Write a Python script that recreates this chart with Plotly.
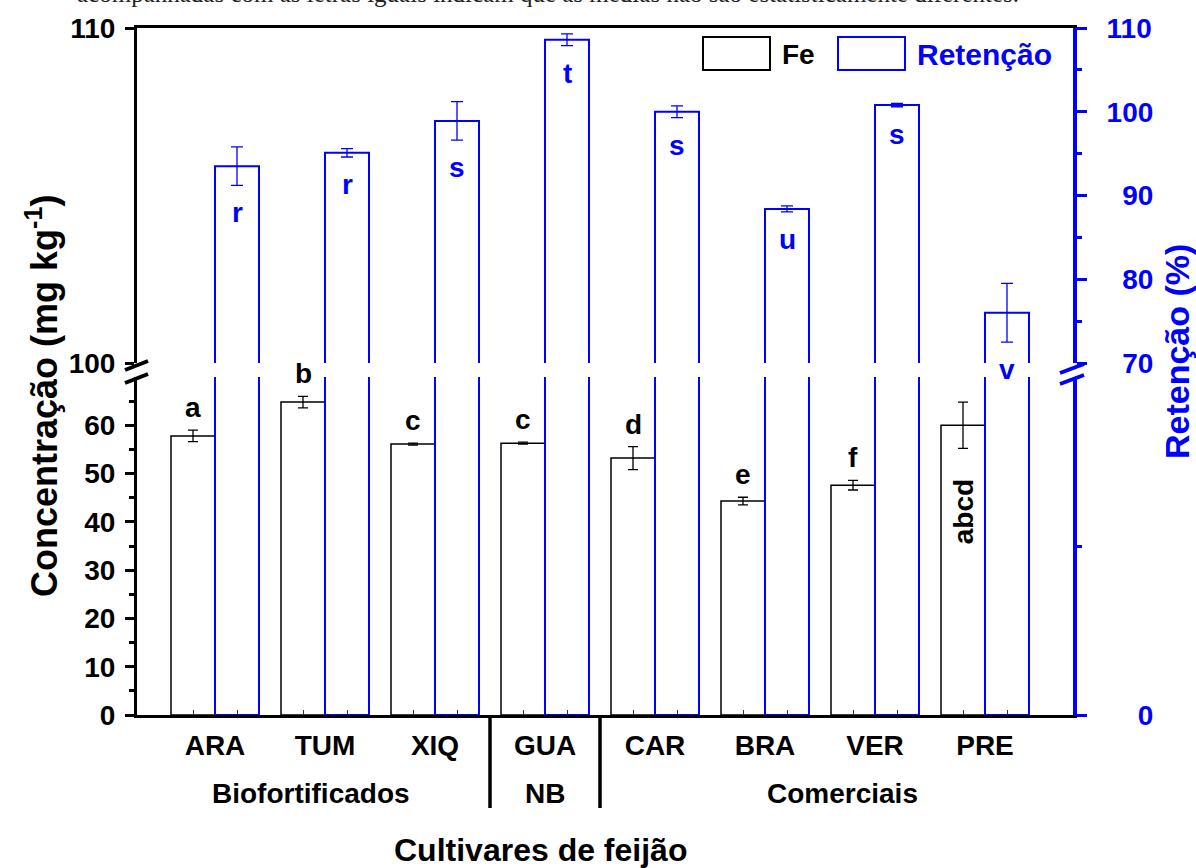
import plotly.graph_objects as go

# ---------------- data ----------------
categories = ["ARA", "TUM", "XIQ", "GUA", "CAR", "BRA", "VER", "PRE"]
fe = [57.8, 64.8, 56.1, 56.3, 53.2, 44.3, 47.6, 60.0]
fe_err = [1.2, 1.2, 0.2, 0.2, 2.4, 0.8, 1.0, 4.8]
fe_letters = ["a", "b", "c", "c", "d", "e", "f", "abcd"]
ret = [93.5, 95.1, 98.9, 108.6, 100.0, 88.4, 100.8, 76.0]
ret_err = [2.3, 0.5, 2.3, 0.7, 0.7, 0.35, 0.2, 3.5]
ret_letters = ["r", "r", "s", "t", "s", "u", "s", "v"]
groups = ["Biofortificados", "NB", "Comerciais"]
fe_ticks_lower = [0, 10, 20, 30, 40, 50, 60]
fe_ticks_upper = [100, 110]
ret_ticks_upper = [70, 80, 90, 100, 110]
ret_ticks_lower = [0]

# ---------------- layout helpers ----------------
FONT = "Liberation Sans, Arial, sans-serif"
BLUE = "#0000FF"
W, H = 1196, 868
L, R, T, B = 137, 1073, 28, 715
PW, PH = R - L, B - T


def px(x):
    return (x - L) / PW


def py(y):
    return (B - y) / PH


idx = list(range(len(categories)))
lower_dom = [0, py(377)]
upper_dom = [py(363), 1]
bw = 0.4

fig = go.Figure()

fig.add_trace(go.Bar(
    x=idx, y=fe, width=bw, offset=-bw, xaxis="x", yaxis="y",
    marker=dict(color="white", line=dict(color="black", width=1.5)),
    error_y=dict(type="data", array=fe_err, color="black", thickness=1.3, width=5),
    showlegend=False, name="Fe"))

fig.add_trace(go.Bar(
    x=idx, y=ret, width=bw, offset=0, xaxis="x", yaxis="y2",
    marker=dict(color="white", line=dict(color=BLUE, width=2)),
    showlegend=False, name="Retenção"))

# placeholders so that the upper-left axis and top frame exist
fig.add_trace(go.Scatter(x=[None], y=[None], xaxis="x", yaxis="y3",
                         mode="markers", showlegend=False, hoverinfo="skip"))
fig.add_trace(go.Scatter(x=[None], y=[None], xaxis="x2", yaxis="y3",
                         mode="markers", showlegend=False, hoverinfo="skip"))

fig.add_trace(go.Bar(
    x=idx, y=ret, width=bw, offset=0, xaxis="x", yaxis="y4",
    marker=dict(color="white", line=dict(color=BLUE, width=2)),
    error_y=dict(type="data", array=ret_err, color=BLUE, thickness=1.3, width=6),
    showlegend=False, name="Retenção"))

tickfont_k = dict(family=FONT, size=28, color="black", weight="bold")
tickfont_b = dict(family=FONT, size=28, color=BLUE, weight="bold")
FS = "\u2007"


def pad(v):
    s = str(v)
    return FS * (3 - len(s)) + s


xrange_ = [(L - 215) / 110, (R - 215) / 110]

fig.update_layout(
    width=W, height=H, autosize=False,
    margin=dict(l=L, r=W - R, t=T, b=H - B),
    paper_bgcolor="white", plot_bgcolor="rgba(0,0,0,0)",
    barmode="overlay",
    xaxis=dict(
        domain=[0, 1], range=xrange_, anchor="y",
        tickmode="array", tickvals=idx, ticktext=categories, ticks="",
        tickfont=tickfont_k, ticklabelstandoff=3,
        showline=True, linecolor="black", linewidth=3,
        showgrid=False, zeroline=False,
        minor=dict(tickmode="array",
                   tickvals=[i + d for i in idx for d in (-bw / 2, bw / 2)],
                   ticks="inside", ticklen=5, tickwidth=1, tickcolor="#333",
                   showgrid=False)),
    xaxis2=dict(
        domain=[0, 1], range=xrange_, anchor="y3", side="top",
        showline=True, linecolor="black", linewidth=3,
        showticklabels=False, ticks="", showgrid=False, zeroline=False),
    yaxis=dict(
        domain=lower_dom, range=[0, 70], anchor="x",
        tickmode="array", tickvals=fe_ticks_lower, ticks="outside",
        ticklen=9, tickwidth=3, tickcolor="black", tickfont=tickfont_k,
        ticklabelstandoff=4,
        showline=True, linecolor="black", linewidth=3,
        showgrid=False, zeroline=False,
        minor=dict(tickmode="array", tickvals=[v + 5 for v in fe_ticks_lower],
                   ticks="outside", ticklen=5, tickwidth=3, tickcolor="black",
                   showgrid=False)),
    yaxis2=dict(
        overlaying="y", side="right", anchor="x", range=[0, 70],
        tickmode="array", tickvals=ret_ticks_lower,
        ticktext=[pad(v) for v in ret_ticks_lower], ticks="outside",
        ticklen=10, tickwidth=3, tickcolor=BLUE, tickfont=tickfont_b,
        ticklabelstandoff=14,
        showline=True, linecolor=BLUE, linewidth=4,
        showgrid=False, zeroline=False,
        minor=dict(tickmode="array", tickvals=[35], ticks="outside",
                   ticklen=5, tickwidth=3, tickcolor=BLUE, showgrid=False)),
    yaxis3=dict(
        domain=upper_dom, range=[100, 110], anchor="x",
        tickmode="array", tickvals=fe_ticks_upper, ticks="outside",
        ticklen=9, tickwidth=3, tickcolor="black", tickfont=tickfont_k,
        ticklabelstandoff=4,
        showline=True, linecolor="black", linewidth=3,
        showgrid=False, zeroline=False),
    yaxis4=dict(
        overlaying="y3", side="right", anchor="x", range=[70, 110],
        domain=upper_dom,
        tickmode="array", tickvals=ret_ticks_upper,
        ticktext=[pad(v) for v in ret_ticks_upper], ticks="outside",
        ticklen=10, tickwidth=3, tickcolor=BLUE, tickfont=tickfont_b,
        ticklabelstandoff=14,
        showline=True, linecolor=BLUE, linewidth=4,
        showgrid=False, zeroline=False,
        minor=dict(tickmode="array", tickvals=[v + 5 for v in ret_ticks_upper[:-1]],
                   ticks="outside", ticklen=5, tickwidth=3, tickcolor=BLUE,
                   showgrid=False)),
)

ann = []
letter_font_k = dict(family=FONT, size=28, color="black", weight="bold")
letter_font_b = dict(family=FONT, size=28, color=BLUE, weight="bold")
for i, (v, e, t) in enumerate(zip(fe, fe_err, fe_letters)):
    if len(t) > 1:
        ann.append(dict(x=i - bw / 2, y=v * 0.7, xref="x", yref="y", text=t,
                        showarrow=False, textangle=-90, font=letter_font_k,
                        xanchor="center", yanchor="middle"))
    else:
        ann.append(dict(x=i - bw / 2, y=v + e, xref="x", yref="y", text=t,
                        showarrow=False, font=letter_font_k,
                        xanchor="center", yanchor="bottom", yshift=5))
for i, (v, e, t) in enumerate(zip(ret, ret_err, ret_letters)):
    ann.append(dict(x=i + bw / 2, y=v - e, xref="x", yref="y4", text=t,
                    showarrow=False, font=letter_font_b,
                    xanchor="center", yanchor="top", yshift=-10))

# group labels
group_font = dict(family=FONT, size=28, color="black", weight="bold")
for g, gx in zip(groups, [0.87, 3.0, 5.7]):
    ann.append(dict(x=gx, y=py(793), xref="x", yref="paper", text=g,
                    showarrow=False, font=group_font,
                    xanchor="center", yanchor="middle"))

# axis titles
ann.append(dict(x=px(540), y=py(850), xref="paper", yref="paper",
                text="Cultivares de feijão", showarrow=False,
                font=dict(family=FONT, size=32, color="black", weight="bold"),
                xanchor="center", yanchor="middle"))
ann.append(dict(x=px(42), y=py(396), xref="paper", yref="paper",
                text="Concentração (mg kg<sup>-1</sup>)", showarrow=False,
                font=dict(family=FONT, size=36, color="black", weight="bold"),
                textangle=-90, xanchor="center", yanchor="middle"))
ann.append(dict(x=px(1177), y=py(352), xref="paper", yref="paper",
                text="Retenção (%)", showarrow=False,
                font=dict(family=FONT, size=34, color=BLUE, weight="bold"),
                textangle=-90, xanchor="center", yanchor="middle"))

# legend text
ann.append(dict(x=px(780), y=py(54), xref="paper", yref="paper", text="Fe",
                showarrow=False, font=dict(family=FONT, size=28, color="black", weight="bold"),
                xanchor="left", yanchor="middle"))
ann.append(dict(x=px(915), y=py(54), xref="paper", yref="paper", text="Retenção",
                showarrow=False, font=dict(family=FONT, size=30, color=BLUE, weight="bold"),
                xanchor="left", yanchor="middle"))

# caption line, cut off at the very top as in the reference
ann.append(dict(x=px(75), y=py(9), xref="paper", yref="paper",
                text="acompanhadas com as letras iguais indicam que as médias não são estatisticamente diferentes.",
                showarrow=False, font=dict(family="Liberation Serif, Times New Roman, serif",
                                           size=25, color="#222"),
                xanchor="left", yanchor="bottom"))

shapes = []
# legend boxes
shapes.append(dict(type="rect", xref="paper", yref="paper",
                   x0=px(703), x1=px(770), y0=py(70), y1=py(37),
                   line=dict(color="black", width=2), fillcolor="white"))
shapes.append(dict(type="rect", xref="paper", yref="paper",
                   x0=px(838), x1=px(905), y0=py(70), y1=py(37),
                   line=dict(color=BLUE, width=2), fillcolor="white"))
# group separators below axis
for sx in (2.5, 3.5):
    shapes.append(dict(type="line", xref="x", yref="paper", x0=sx, x1=sx,
                       y0=py(717), y1=py(808), line=dict(color="black", width=3.5)))
# axis break marks
for (x0, y0, x1, y1) in [(125, 370, 148, 361), (125, 383, 148, 374)]:
    shapes.append(dict(type="line", xref="paper", yref="paper",
                       x0=px(x0), y0=py(y0), x1=px(x1), y1=py(y1),
                       line=dict(color="black", width=4)))
for (x0, y0, x1, y1) in [(1060, 373, 1084, 364), (1060, 384, 1084, 375)]:
    shapes.append(dict(type="line", xref="paper", yref="paper",
                       x0=px(x0), y0=py(y0), x1=px(x1), y1=py(y1),
                       line=dict(color=BLUE, width=4)))

fig.update_layout(annotations=ann, shapes=shapes)

fig.write_html("out.html")
